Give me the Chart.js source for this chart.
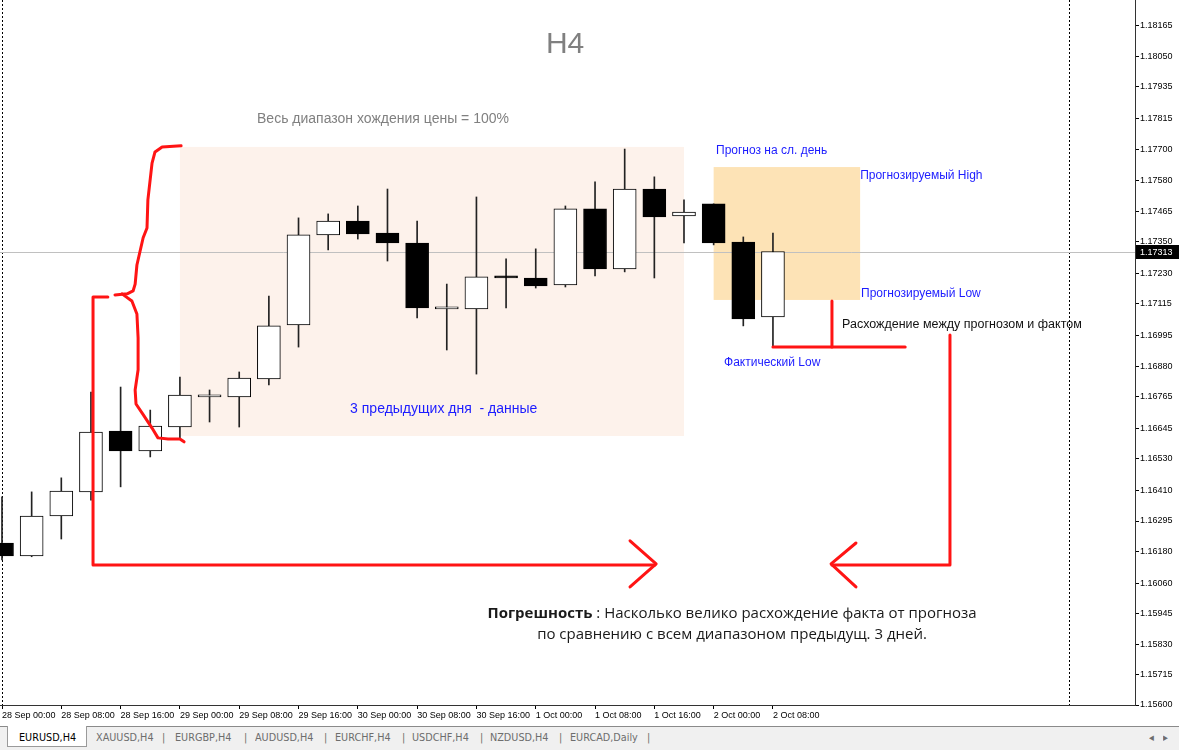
<!DOCTYPE html>
<html>
<head>
<meta charset="utf-8">
<script src="https://cdn.jsdelivr.net/npm/chart.js@4.4.0/dist/chart.umd.min.js"></script>
<style>
  html, body { margin: 0; padding: 0; background: #fff; overflow: hidden; }
  #wrap { position: relative; width: 1179px; height: 726px; }
  #tabs { position: relative; width: 1179px; height: 23px; background: #f0f0f0; border-top: 1px solid #8a8a8a;
          font: 11px "DejaVu Sans", sans-serif; color: #6d6d6d; }
  #tabs span { position: absolute; top: 4px; white-space: nowrap; transform: scaleX(0.88); transform-origin: left; }
  #tabs .active { position: absolute; left: 7px; top: -1px; width: 78px; height: 20px; background: #fff;
                  border: 1px solid #9a9a9a; border-top: none; }
  #tabs .active span { color: #000; left: 11px; top: 5px; }
</style>
</head>
<body>
<div id="wrap"><canvas id="chart" width="1179" height="726"></canvas></div>
<div id="tabs">
  <div class="active"><span>EURUSD,H4</span></div>
  <span style="left:96px">XAUUSD,H4</span><span style="left:162px">|</span>
  <span style="left:175px">EURGBP,H4</span><span style="left:244px">|</span>
  <span style="left:255px">AUDUSD,H4</span><span style="left:324px">|</span>
  <span style="left:335px">EURCHF,H4</span><span style="left:402px">|</span>
  <span style="left:412px">USDCHF,H4</span><span style="left:480px">|</span>
  <span style="left:490px">NZDUSD,H4</span><span style="left:559px">|</span>
  <span style="left:570px">EURCAD,Daily</span><span style="left:647px">|</span>
  <span style="left:1149px">&#9666;</span><span style="left:1163px">&#9656;</span>
</div>
<script>
// H4 candles, 28 Sep 00:00 .. 2 Oct 08:00
const times = [
  '28 Sep 00:00', '28 Sep 04:00', '28 Sep 08:00', '28 Sep 12:00', '28 Sep 16:00', '28 Sep 20:00',
  '29 Sep 00:00', '29 Sep 04:00', '29 Sep 08:00', '29 Sep 12:00', '29 Sep 16:00', '29 Sep 20:00',
  '30 Sep 00:00', '30 Sep 04:00', '30 Sep 08:00', '30 Sep 12:00', '30 Sep 16:00', '30 Sep 20:00',
  '1 Oct 00:00', '1 Oct 04:00', '1 Oct 08:00', '1 Oct 12:00', '1 Oct 16:00', '1 Oct 20:00',
  '2 Oct 00:00', '2 Oct 04:00', '2 Oct 08:00'
]
const opens = [
  1.16212, 1.16163, 1.16314, 1.16405, 1.16635, 1.16560, 1.16650, 1.16764, 1.16764, 1.16832,
  1.17036, 1.17376, 1.17428, 1.17383, 1.17345, 1.17096, 1.17096, 1.17221, 1.17213, 1.17187,
  1.17474, 1.17247, 1.17549, 1.17447, 1.17493, 1.17349, 1.17066
]
const highs = [
  1.16386, 1.16405, 1.16458, 1.16782, 1.16801, 1.16714, 1.16839, 1.16790, 1.16858, 1.17145,
  1.17440, 1.17455, 1.17485, 1.17549, 1.17428, 1.17190, 1.17519, 1.17285, 1.17323, 1.17485,
  1.17576, 1.17700, 1.17595, 1.17508, 1.17493, 1.17368, 1.17383
]
const lows = [
  1.16148, 1.16160, 1.16227, 1.16374, 1.16424, 1.16537, 1.16609, 1.16669, 1.16650, 1.16809,
  1.16952, 1.17319, 1.17360, 1.17277, 1.17062, 1.16941, 1.16850, 1.17100, 1.17175, 1.17179,
  1.17221, 1.17236, 1.17213, 1.17345, 1.17338, 1.17032, 1.16952
]
const closes = [
  1.16163, 1.16314, 1.16408, 1.16631, 1.16560, 1.16654, 1.16771, 1.16764, 1.16835, 1.17032,
  1.17376, 1.17428, 1.17379, 1.17345, 1.17100, 1.17096, 1.17217, 1.17213, 1.17183, 1.17474,
  1.17247, 1.17549, 1.17444, 1.17462, 1.17345, 1.17058, 1.17313
]
const priceTicks = [
  1.15600, 1.15715, 1.15830, 1.15945, 1.16060, 1.16180, 1.16295, 1.16410, 1.16530, 1.16645,
  1.16765, 1.16880, 1.16995, 1.17115, 1.17230, 1.17350, 1.17465, 1.17580, 1.17700, 1.17815,
  1.17935, 1.18050, 1.18165
]
const timeTicks = [0, 2, 4, 6, 8, 10, 12, 14, 16, 18, 20, 22, 24, 26]
const lastPrice = 1.17313
const separators = [0, 36]

// drawn objects, in candle index / price units
const rangeBox = { x0: 6.0, x1: 23.0, top: 1.17708, bottom: 1.16616 }
const forecastBox = { x0: 24.0, x1: 28.94, top: 1.17632, bottom: 1.17130 }

const redStrokes = [
  [[6.04, 1.17712], [5.40, 1.17708], [5.16, 1.17689], [5.06, 1.17647], [4.92, 1.17508], [4.89, 1.17402],
   [4.76, 1.17365], [4.55, 1.17262], [4.49, 1.17190], [4.42, 1.17164], [4.22, 1.17153], [3.81, 1.17149]],
  [[4.05, 1.17153], [4.38, 1.17126], [4.55, 1.17077], [4.59, 1.16986], [4.59, 1.16866], [4.49, 1.16790],
   [4.52, 1.16737], [4.75, 1.16699], [5.06, 1.16646], [5.26, 1.16609], [5.60, 1.16605], [6.00, 1.16605], [6.14, 1.16594]],
  [[3.57, 1.17141], [3.07, 1.17141], [3.07, 1.16129], [22.02, 1.16129]],
  [[21.18, 1.16220], [22.06, 1.16133], [21.18, 1.16046]],
  [[31.97, 1.16998], [31.97, 1.16129], [27.99, 1.16129]],
  [[28.80, 1.16212], [27.96, 1.16133], [28.80, 1.16046]],
  [[26.0, 1.16952], [30.46, 1.16952]],
  [[27.99, 1.17126], [27.99, 1.16952]]
]

const labels = [
  { text: 'H4', x: 18.99, y: 1.18093, font: '30px "Liberation Sans"', color: '#808080', align: 'center' },
  { text: 'Весь диапазон хождения цены = 100%', x: 8.6, y: 1.17814, font: '14px "Liberation Sans"', color: '#808080' },
  { text: '3 предыдущих дня  - данные', x: 11.74, y: 1.16718, font: '14px "Liberation Sans"', color: '#1c1cff' },
  { text: 'Прогноз на сл. день', x: 24.08, y: 1.17693, font: '12px "Liberation Sans"', color: '#1c1cff' },
  { text: 'Прогнозируемый High', x: 28.94, y: 1.17598, font: '12px "Liberation Sans"', color: '#1c1cff' },
  { text: 'Прогнозируемый Low', x: 28.97, y: 1.17153, font: '12px "Liberation Sans"', color: '#1c1cff' },
  { text: 'Расхождение между прогнозом и фактом', x: 28.33, y: 1.17036, font: '12.5px "Liberation Sans"', color: '#111' },
  { text: 'Фактический Low', x: 24.35, y: 1.16892, font: '12px "Liberation Sans"', color: '#1c1cff' }
]
const noteCenter = 24.62
const noteLines = [
  { y: 1.15944, bold: 'Погрешность', rest: ' : Насколько велико расхождение факта от прогноза' },
  { y: 1.15864, bold: '', rest: 'по сравнению с всем диапазоном предыдущ. 3 дней.' }
]

const overlay = {
  id: 'overlay',
  beforeDatasetsDraw(chart) {
    const { ctx, chartArea: a, scales: { x, y } } = chart
    ctx.save()
    ctx.fillStyle = '#fdf2eb'
    ctx.fillRect(x.getPixelForValue(rangeBox.x0), y.getPixelForValue(rangeBox.top),
      x.getPixelForValue(rangeBox.x1) - x.getPixelForValue(rangeBox.x0),
      y.getPixelForValue(rangeBox.bottom) - y.getPixelForValue(rangeBox.top))
    ctx.fillStyle = '#fde3b6'
    ctx.fillRect(x.getPixelForValue(forecastBox.x0), y.getPixelForValue(forecastBox.top),
      x.getPixelForValue(forecastBox.x1) - x.getPixelForValue(forecastBox.x0),
      y.getPixelForValue(forecastBox.bottom) - y.getPixelForValue(forecastBox.top))

    // period separators
    ctx.strokeStyle = '#000'
    ctx.lineWidth = 1
    ctx.setLineDash([2, 2])
    separators.forEach(s => {
      const px = Math.round(x.getPixelForValue(s)) + 0.5
      ctx.beginPath(); ctx.moveTo(px, a.top); ctx.lineTo(px, a.bottom); ctx.stroke()
    })
    ctx.setLineDash([])

    // bid line
    const py = Math.round(y.getPixelForValue(lastPrice)) + 0.5
    ctx.strokeStyle = '#c0c0c0'
    ctx.beginPath(); ctx.moveTo(a.left, py); ctx.lineTo(a.right, py); ctx.stroke()
    ctx.restore()
  },
  afterDatasetsDraw(chart) {
    const { ctx, scales: { x, y } } = chart
    ctx.save()
    ctx.strokeStyle = '#ff1414'
    ctx.lineWidth = 3
    ctx.lineJoin = 'round'
    ctx.lineCap = 'round'
    redStrokes.forEach(pts => {
      ctx.beginPath()
      pts.forEach(([i, p], k) => {
        const px = x.getPixelForValue(i), py = y.getPixelForValue(p)
        if (k === 0) ctx.moveTo(px, py); else ctx.lineTo(px, py)
      })
      ctx.stroke()
    })

    ctx.textBaseline = 'middle'
    labels.forEach(l => {
      ctx.font = l.font
      ctx.fillStyle = l.color
      ctx.textAlign = l.align || 'left'
      ctx.fillText(l.text, x.getPixelForValue(l.x), y.getPixelForValue(l.y))
    })

    ctx.textAlign = 'left'
    ctx.fillStyle = '#1a1a1a'
    const bFont = 'bold 15px "Open Sans"', rFont = '15px "Open Sans"'
    noteLines.forEach(n => {
      ctx.font = bFont
      const wb = n.bold ? ctx.measureText(n.bold).width : 0
      ctx.font = rFont
      const wr = ctx.measureText(n.rest).width
      let sx = x.getPixelForValue(noteCenter) - (wb + wr) / 2
      const sy = y.getPixelForValue(n.y)
      if (n.bold) { ctx.font = bFont; ctx.fillText(n.bold, sx, sy); sx += wb }
      ctx.font = rFont
      ctx.fillText(n.rest, sx, sy)
    })
    ctx.restore()
  },
  afterDraw(chart) {
    const { ctx, chartArea: a, scales: { y } } = chart
    const py = Math.round(y.getPixelForValue(lastPrice))
    ctx.save()
    ctx.fillStyle = '#000'
    ctx.fillRect(a.right + 1, py - 7, 44, 14)
    ctx.fillStyle = '#fff'
    ctx.font = '9px "Liberation Sans"'
    ctx.textBaseline = 'middle'
    ctx.fillText(lastPrice.toFixed(5), a.right + 5, py + 0.5)
    ctx.restore()
  }
}

Chart.defaults.font.family = '"Liberation Sans", sans-serif'
Chart.defaults.font.size = 9
Chart.defaults.color = '#000'

new Chart(document.getElementById('chart'), {
  type: 'bar',
  data: {
    datasets: [
      {
        label: 'body',
        data: opens.map((o, i) => ({ x: i, y: [Math.min(o, closes[i]), Math.max(o, closes[i])] })),
        backgroundColor: opens.map((o, i) => closes[i] >= o ? '#fff' : '#000'),
        borderColor: '#000',
        borderWidth: 1,
        borderSkipped: false,
        grouped: false,
        barThickness: 23,
        maxBarThickness: 23,
        minBarLength: 2
      },
      {
        label: 'wick',
        data: lows.map((l, i) => ({ x: i, y: [l, highs[i]] })),
        backgroundColor: '#222',
        borderWidth: 0,
        grouped: false,
        barThickness: 1,
        maxBarThickness: 1
      }
    ]
  },
  options: {
    responsive: false,
    animation: false,
    events: [],
    layout: { padding: 0 },
    plugins: { legend: { display: false }, tooltip: { enabled: false } },
    scales: {
      x: {
        type: 'linear',
        offset: false,
        min: -0.0675,
        max: 38.21,
        afterBuildTicks: axis => { axis.ticks = timeTicks.map(v => ({ value: v })) },
        afterFit: axis => { axis.height = 21; axis.paddingLeft = 0; axis.paddingRight = 0 },
        ticks: { align: 'start', maxRotation: 0, autoSkip: false, padding: 1, callback: v => times[v] },
        grid: { offset: false, drawOnChartArea: false, drawTicks: true, tickLength: 4, color: '#000' },
        border: { display: true, color: '#333' }
      },
      y: {
        position: 'right',
        min: 1.156,
        max: 1.18263,
        afterBuildTicks: axis => { axis.ticks = priceTicks.map(v => ({ value: v })) },
        afterFit: axis => { axis.width = 44; axis.paddingTop = 0; axis.paddingBottom = 0 },
        ticks: { padding: 1, callback: v => v.toFixed(5) },
        grid: { drawOnChartArea: false, drawTicks: true, tickLength: 4, color: '#000' },
        border: { display: true, color: '#333' }
      }
    }
  },
  plugins: [overlay]
})
</script>
</body>
</html>
